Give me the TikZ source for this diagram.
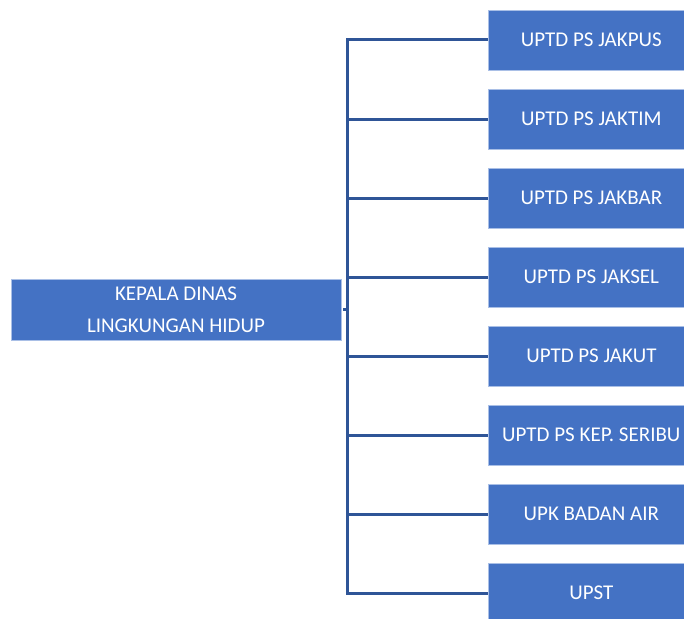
\documentclass[tikz,border=0pt]{standalone}
\usepackage{fontspec}
\setmainfont{Carlito}
\definecolor{boxblue}{HTML}{4472C4}
\definecolor{edgeblue}{HTML}{A9BFE6}
\definecolor{lineblue}{HTML}{2F5597}
\tikzset{
  unitbox/.style={fill=boxblue,draw=edgeblue,line width=0.7pt,text=white,
    minimum width=206pt,minimum height=60pt,inner sep=0pt,anchor=west,
    font=\fontsize{21}{25}\selectfont},
  headbox/.style={fill=boxblue,draw=edgeblue,line width=0.7pt,text=white,
    minimum width=330pt,minimum height=61pt,inner sep=0pt,align=center,
    font=\fontsize{21}{32}\selectfont},
  link/.style={draw=lineblue,line width=3pt}
}

\begin{document}
\begin{tikzpicture}[x=1pt,y=-1pt]
\useasboundingbox (0,0) rectangle (684,618);
% head of office
\node[headbox] (kepala) at (176,309.5) {KEPALA DINAS\\LINGKUNGAN HIDUP};
% units
\foreach \name/\txt [count=\i from 0] in {jakpus/UPTD PS JAKPUS,jaktim/UPTD PS JAKTIM,
    jakbar/UPTD PS JAKBAR,jaksel/UPTD PS JAKSEL,jakut/UPTD PS JAKUT,
    seribu/UPTD PS KEP. SERIBU,badanair/UPK BADAN AIR,upst/UPST}
  \node[unitbox] (\name) at (488,40+79*\i) {\txt};
% trunk line
\coordinate (trunk) at (347.5,0);
\draw[link,line cap=rect] (trunk|-jakpus.west) -- (trunk|-upst.west);
\foreach \name in {jakpus,jaktim,jakbar,jaksel,jakut,seribu,badanair,upst}
  \draw[link] (trunk|-\name.west) -- (\name.west);
\draw[link,shorten <=2pt] (kepala.east) -- (trunk|-kepala.east);
\end{tikzpicture}
\end{document}
